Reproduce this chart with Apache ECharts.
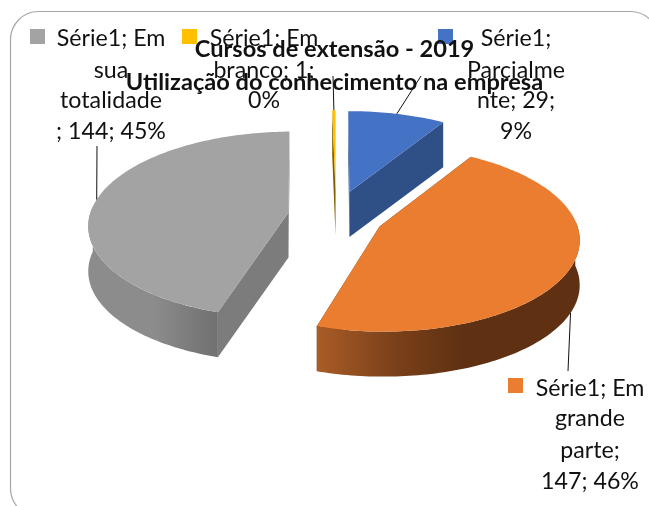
<!DOCTYPE html>
<html><head><meta charset="utf-8">
<style>html,body{margin:0;padding:0;background:#fff}#c{width:649px;height:506px}</style>
<script src="https://cdn.jsdelivr.net/npm/echarts@6/dist/echarts.min.js"></script>
</head><body><div id="c"></div>
<script>
const categories = ['Parcialmente','Em grande parte','Em sua totalidade','Em branco'];
const values = [29,147,144,1];
const percents = [9,46,45,0];
const topColors = ['#4472C4','#EB7D31','#A3A3A3','#FFC000'];
const sideColors = ['#2F5086','#5F3112','#7C7C7C','#7F6000'];
const wallStops = [
  [[0,'#2F5086'],[1,'#2F5086']],
  [[0,'#A95C27'],[0.3,'#7A4019'],[0.55,'#5F3112'],[1,'#5F3112']],
  [[0,'#8C8C8C'],[0.5,'#8C8C8C'],[1,'#707070']],
  [[0,'#7F6000'],[1,'#7F6000']]
];
const drawOrder = [3,0,2,1];
const labelLines = [
  ['Série1;','Parcialme','nte; 29;','9%'],
  ['Série1; Em','grande','parte;','147; 46%'],
  ['Série1; Em','sua','totalidade','; 144; 45%'],
  ['Série1; Em','branco; 1;','0%']
];
const titleLines = ['Cursos de extensão - 2019','Utilização do conhecimento na empresa'];

// layout of the tilted, exploded pie
const pie = {cx:336, cy:216, R:198, Ry:93, k:0.13, depth:45, explode:48, exRatio:0.52, persp:0.7};
const labelBoxes = [
  {cx:516, ys:[39,71,101,132], mx:438, my:29, leadTo:[421,76], rimZ:0},
  {cx:590, ys:[389,419,451,482], mx:508, my:378, leadTo:[568,371], rimZ:1},
  {cx:111, ys:[39,71,101,132], mx:30, my:29, leadTo:[97,146], rimZ:0},
  {cx:264, ys:[39,71,101], mx:182, my:29, leadTo:[333,76], rimZ:0}
];
const FONT = 'Lato';

const total = values.reduce((a,b)=>a+b,0);
const starts = []; let acc = 0;
values.forEach(v=>{ starts.push(acc/total*Math.PI*2); acc+=v; });

function apex(i){
  const mid = starts[i] + values[i]/total*Math.PI;
  return [pie.cx + pie.explode*Math.sin(mid), pie.cy - pie.explode*pie.exRatio*Math.cos(mid)];
}
function rim(c,t,z){
  const X=Math.sin(t), Y=-Math.cos(t), s=1+pie.k*Y;
  return [c[0]+pie.R*X*s+pie.persp*(c[0]-pie.cx)*(s-1), c[1]+pie.Ry*Y*s+(z?pie.depth:0)];
}
function arc(c,a,b,z){
  const n=Math.max(2,Math.ceil((b-a)/0.02)), out=[];
  for(let j=0;j<=n;j++) out.push(rim(c,a+(b-a)*j/n,z));
  return out;
}
function renderSlice(params, api){
  const i = api.value(0);
  const a = starts[i], b = a + values[i]/total*Math.PI*2;
  const c = apex(i);
  const kids = [];
  // flat cut walls
  [a,b].forEach(t=>{
    const r=rim(c,t,false), rb=rim(c,t,true), cb=[c[0],c[1]+pie.depth];
    kids.push({type:'polygon',shape:{points:[c,r,rb,cb]},style:{fill:sideColors[i]},silent:true});
  });
  // curved outer wall (front half only)
  const va = Math.max(a,Math.PI*0.48), vb = Math.min(b,Math.PI*1.52);
  if(vb>va){
    const pts = arc(c,va,vb,false).concat(arc(c,va,vb,true).reverse());
    const stops = wallStops[i].map(s=>({offset:s[0],color:s[1]}));
    const grad = new echarts.graphic.LinearGradient(0,0,1,0,stops);
    kids.push({type:'polygon',shape:{points:pts},style:{fill:grad},silent:true});
  }
  // top face
  kids.push({type:'polygon',shape:{points:[c].concat(arc(c,a,b,false))},style:{fill:topColors[i]},silent:true});
  // leader line
  const box = labelBoxes[i];
  const from = rim(c,(a+b)/2,box.rimZ===1);
  kids.push({type:'line',shape:{x1:from[0],y1:from[1],x2:box.leadTo[0],y2:box.leadTo[1]},style:{stroke:'#111',lineWidth:1},silent:true});
  return {type:'group',children:kids};
}

const graphics = [{type:'rect',z:0,shape:{x:10.5,y:11.5,width:648,height:505,r:28},style:{fill:'#fff',stroke:'#A6A6A6',lineWidth:1.2},silent:true}];
labelBoxes.forEach((b,i)=>{
  graphics.push({type:'rect',z:1,shape:{x:b.mx,y:b.my,width:15,height:15},style:{fill:topColors[i]},silent:true});
  labelLines[i].forEach((t,j)=>{
    graphics.push({type:'text',z:1,x:b.cx,y:b.ys[j],style:{text:t,fill:'#111',font:'23.2px '+FONT,textAlign:'center',textVerticalAlign:'middle'},silent:true});
  });
});
titleLines.forEach((t,j)=>{
  graphics.push({type:'text',z:10,x:334.5,y:[49,82][j],style:{text:t,fill:'#111',font:'bold 23.6px '+FONT,textAlign:'center',textVerticalAlign:'middle'},silent:true});
});

const chart = echarts.init(document.getElementById('c'),null,{renderer:'canvas'});
chart.setOption({
  animation:false,
  backgroundColor:'#fff',
  graphic:{elements:graphics},
  series:[{type:'custom',coordinateSystem:'none',z:5,renderItem:renderSlice,
    data:drawOrder.map(i=>[i,values[i],categories[i],percents[i]]),silent:true}]
});
</script></body></html>
